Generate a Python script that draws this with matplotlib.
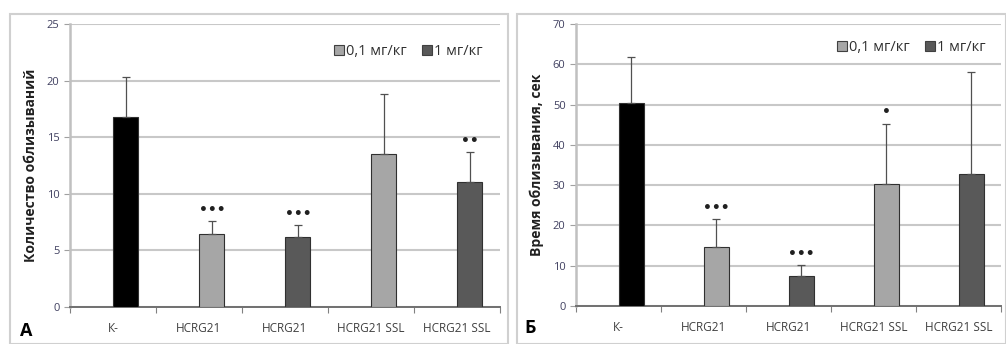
import numpy as np
import matplotlib.pyplot as plt
from matplotlib.patches import Patch, Rectangle

plt.rcParams['font.family'] = ['Open Sans', 'DejaVu Sans']

# data
categories = ["К-", "HCRG21", "HCRG21", "HCRG21 SSL", "HCRG21 SSL"]
bar_colors = ["#000000", "#a6a6a6", "#595959", "#a6a6a6", "#595959"]

count_mean = [16.8, 6.45, 6.2, 13.5, 11.0]
count_err = [3.55, 1.15, 1.0, 5.35, 2.65]
count_stars = ["", "***", "***", "", "**"]

time_mean = [50.3, 14.6, 7.4, 30.2, 32.7]
time_err = [11.4, 6.9, 2.7, 15.1, 25.4]
time_stars = ["", "***", "***", "*", ""]

legend_labels = ["0,1 мг/кг", "1 мг/кг"]
legend_colors = ["#a6a6a6", "#595959"]

fig = plt.figure(figsize=(10.06, 3.44), dpi=100)

# panel frames
for x0, w in [(10, 498), (517, 489)]:
    fig.patches.append(Rectangle((x0 / 1006, 0), w / 1006, 1 - 14 / 344,
                                 transform=fig.transFigure, fill=False,
                                 edgecolor="#d0d0d0", lw=1.5))


def draw_panel(rect, means, errs, stars, ymax, ystep, ylabel, letter, letter_pos, leg_anchor):
    ax = fig.add_axes(rect)
    x = np.arange(len(categories))
    pos = x + 0.15
    ax.bar(pos, means, width=0.29, color=bar_colors, edgecolor="#303030", lw=0.8, zorder=3)
    ax.errorbar(pos, means, yerr=[np.zeros(len(means)), errs], fmt="none",
                ecolor="#505050", elinewidth=0.9, capsize=3, capthick=0.9, zorder=4)
    for p, m, e, s in zip(pos, means, errs, stars):
        if s:
            # significance marks drawn as heavy dots, like in the original
            ax.text(p, m + e + ymax * 0.015, "•" * len(s), ha="center", va="bottom",
                    fontsize=10, fontweight="bold", color="#202020",
                    family="DejaVu Sans")
    ax.set_xlim(-0.5, len(categories) - 0.5)
    ax.set_ylim(0, ymax)
    ax.set_yticks(np.arange(0, ymax + 1, ystep))
    ax.yaxis.grid(True, color="#c8c8c8", lw=1.5, zorder=0)
    ax.set_axisbelow(True)
    ax.set_xticks(np.arange(-0.5, len(categories)), minor=False)
    ax.set_xticklabels([])
    ax.set_xticks(x, minor=True)
    ax.set_xticklabels(categories, minor=True)
    ax.tick_params(axis="x", which="minor", length=0, labelsize=8.5, colors="#404040", pad=11)
    ax.tick_params(axis="x", which="major", length=4, color="#808080", direction="out")
    ax.tick_params(axis="y", length=4, color="#a0a0a0", labelsize=8, labelcolor="#404060")
    for sp in ["top", "right"]:
        ax.spines[sp].set_visible(False)
    ax.spines["left"].set_color("#c0c0c0")
    ax.spines["left"].set_linewidth(1.8)
    ax.spines["bottom"].set_color("#707070")
    ax.spines["bottom"].set_linewidth(1.4)
    ax.set_ylabel(ylabel, fontsize=10, fontweight="bold", color="#202020", labelpad=6)
    handles = [Patch(facecolor=c, edgecolor="#404040", lw=0.8) for c in legend_colors]
    ax.legend(handles, legend_labels, loc="upper right", bbox_to_anchor=leg_anchor,
              ncol=2, frameon=False, fontsize=10.5, handlelength=0.7, handleheight=0.7,
              handletextpad=0.15, columnspacing=1.0, labelcolor="#303030")
    fig.text(letter_pos[0] / 1006, 1 - letter_pos[1] / 344, letter, fontsize=13,
             fontweight="bold", ha="left", va="center")
    return ax


draw_panel([70 / 1006, 1 - 307 / 344, 430 / 1006, 283 / 344], count_mean, count_err,
           count_stars, 25, 5, "Количество облизываний", "А", (20, 331), (0.99, 0.975))
draw_panel([576 / 1006, 1 - 306 / 344, 425 / 1006, 282 / 344], time_mean, time_err,
           time_stars, 70, 10, "Время облизывания, сек", "Б", (524, 328), (0.995, 0.99))

fig.savefig("out.png", dpi=100)
